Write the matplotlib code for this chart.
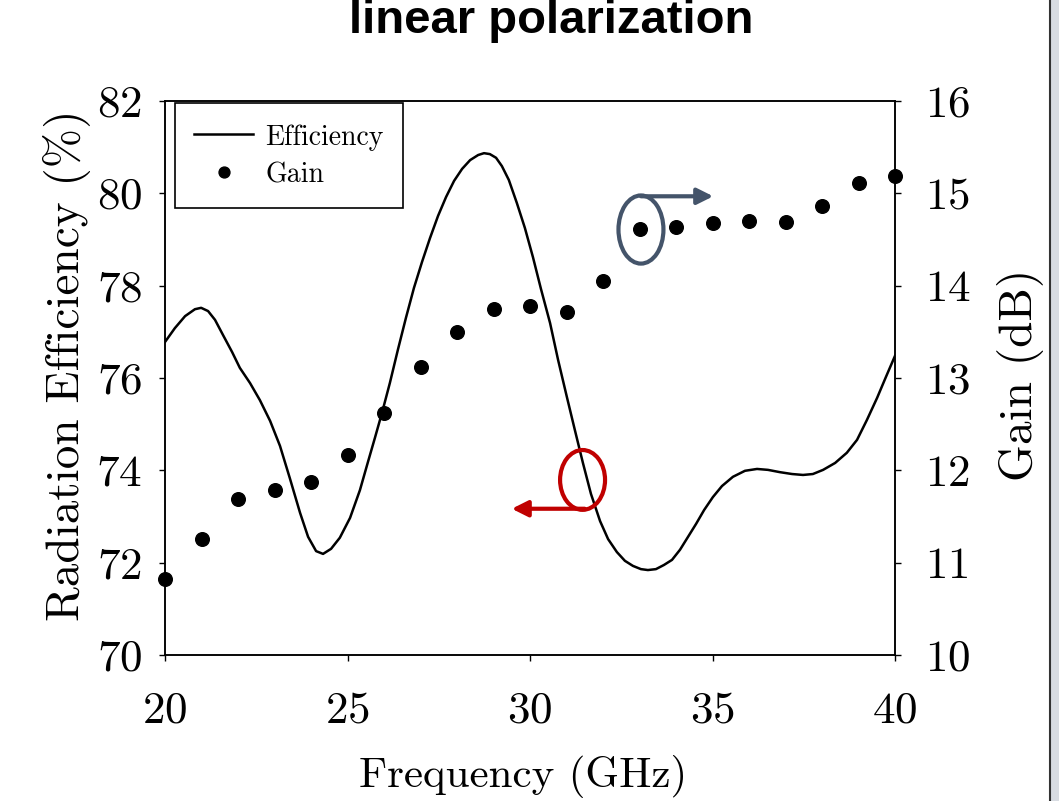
import matplotlib
matplotlib.use('Agg')
import matplotlib.pyplot as plt
from matplotlib.patches import Ellipse, Rectangle
from matplotlib.lines import Line2D

# ---- data ----
freq_eff = [20.00, 20.27, 20.55, 20.82, 20.99, 21.18, 21.37, 21.59, 21.84, 22.05,
            22.33, 22.60, 22.88, 23.15, 23.42, 23.70, 23.92, 24.14, 24.33, 24.55,
            24.79, 25.07, 25.34, 25.56, 25.75, 25.95, 26.16, 26.38, 26.60, 26.82,
            27.04, 27.26, 27.48, 27.70, 27.92, 28.14, 28.36, 28.58, 28.74, 28.90,
            29.07, 29.23, 29.42, 29.64, 29.86, 30.08, 30.30, 30.55, 30.77, 31.01,
            31.23, 31.45, 31.67, 31.92, 32.14, 32.38, 32.60, 32.82, 33.04, 33.23,
            33.45, 33.67, 33.89, 34.11, 34.33, 34.55, 34.77, 35.01, 35.26, 35.56,
            35.89, 36.22, 36.52, 36.85, 37.18, 37.48, 37.75, 38.03, 38.36, 38.68,
            38.96, 39.23, 39.51, 39.75, 40.00]
efficiency = [76.78, 77.08, 77.34, 77.49, 77.52, 77.45, 77.26, 76.93, 76.56, 76.22,
              75.89, 75.52, 75.07, 74.53, 73.83, 73.08, 72.56, 72.25, 72.19, 72.30,
              72.54, 72.97, 73.57, 74.18, 74.70, 75.26, 75.89, 76.61, 77.30, 77.95,
              78.51, 79.03, 79.51, 79.92, 80.27, 80.53, 80.72, 80.83, 80.87, 80.85,
              80.77, 80.59, 80.29, 79.79, 79.25, 78.62, 77.93, 77.19, 76.39, 75.59,
              74.87, 74.16, 73.49, 72.90, 72.51, 72.23, 72.04, 71.93, 71.86, 71.84,
              71.86, 71.95, 72.06, 72.28, 72.56, 72.84, 73.14, 73.42, 73.66, 73.86,
              73.99, 74.03, 74.01, 73.96, 73.92, 73.90, 73.92, 74.01, 74.16, 74.38,
              74.66, 75.09, 75.57, 76.02, 76.48]

freq_gain = [20, 21, 22, 23, 24, 25, 26, 27, 28, 29, 30,
             31, 32, 33, 34, 35, 36, 37, 38, 39, 40]
gain = [10.82, 11.26, 11.69, 11.79, 11.87, 12.17, 12.62, 13.12, 13.50, 13.75, 13.78,
        13.71, 14.05, 14.61, 14.64, 14.68, 14.70, 14.69, 14.86, 15.11, 15.19]

x_ticks = [20, 25, 30, 35, 40]
eff_ticks = [70, 72, 74, 76, 78, 80, 82]
gain_ticks = [10, 11, 12, 13, 14, 15, 16]

plt.rcParams['font.family'] = ['cmr10', 'DejaVu Serif']
plt.rcParams['axes.formatter.use_mathtext'] = True
plt.rcParams['mathtext.fontset'] = 'cm'

W, H = 1059, 801
fig = plt.figure(figsize=(W / 100, H / 100), dpi=100)
fig.patch.set_facecolor('white')
ax = fig.add_axes([165 / W, (H - 655) / H, 730 / W, 554 / H])
ax2 = ax.twinx()

l1, = ax.plot(freq_eff, efficiency, color='black', lw=1.8, label='Efficiency')
s1, = ax2.plot(freq_gain, gain, 'o', color='black', ms=9.8, label='Gain',
               clip_on=False, zorder=5)

ax.set_xlim(20, 40)
ax.set_ylim(70, 82)
ax2.set_ylim(10, 16)
ax.set_xticks(x_ticks)
ax.set_yticks(eff_ticks)
ax2.set_yticks(gain_ticks)

for a in (ax, ax2):
    for sp in a.spines.values():
        sp.set_linewidth(1.1)
ax.tick_params(axis='x', direction='out', length=4.5, width=1.0,
               labelsize=32.5, pad=22)
ax.tick_params(axis='y', direction='out', length=4.5, width=1.0,
               labelsize=32.5, pad=12)
ax2.tick_params(axis='y', direction='out', length=4.5, width=1.0,
                labelsize=32.5, pad=17)

ax.set_xlabel('Frequency (GHz)', fontsize=31)
ax.xaxis.set_label_coords(0.490, -0.220)
ax.xaxis.label.set_va('center')
ax.set_ylabel('Radiation Efficiency (%)', fontsize=34)
ax.yaxis.set_label_coords(-0.134, 0.523)
ax.yaxis.label.set_va('center')
ax2.set_ylabel('Gain (dB)', fontsize=34)
ax2.yaxis.set_label_coords(1.172, 0.505)
ax2.yaxis.label.set_va('center')

leg = ax2.legend([l1, s1], ['Efficiency', 'Gain'], loc='upper left',
                 bbox_to_anchor=(0.0137, 0.9964), borderaxespad=0,
                 frameon=True, fancybox=False, edgecolor='black', framealpha=1,
                 fontsize=20, handlelength=2.1, markerscale=0.8,
                 labelspacing=0.35, borderpad=0.7, handletextpad=0.45,
                 handleheight=1.05)
leg.get_frame().set_linewidth(1.2)

# annotations (ellipses + arrows)
red = '#C00000'
blue = '#44546A'
ax2.add_patch(Ellipse((0.572, 0.316), 0.0616, 0.108, transform=ax2.transAxes,
                      fill=False, edgecolor=red, lw=3, zorder=6))
ax2.annotate('', xy=(0.475, 0.264), xytext=(0.575, 0.264),
             xycoords='axes fraction', textcoords='axes fraction',
             arrowprops=dict(arrowstyle='-|>', color=red, lw=3,
                             mutation_scale=24, shrinkA=0, shrinkB=0), zorder=6)
ax2.add_patch(Ellipse((0.652, 0.768), 0.0616, 0.123, transform=ax2.transAxes,
                      fill=False, edgecolor=blue, lw=3, zorder=6))
ax2.annotate('', xy=(0.751, 0.828), xytext=(0.652, 0.828),
             xycoords='axes fraction', textcoords='axes fraction',
             arrowprops=dict(arrowstyle='-|>', color=blue, lw=3,
                             mutation_scale=24, shrinkA=0, shrinkB=0), zorder=6)

# title (cut at top, as in the slide)
fig.text(551 / W, 1 - 33 / H, 'linear polarization', ha='center', va='baseline',
         fontsize=34, fontweight='bold', family=['Liberation Sans', 'DejaVu Sans'])

# slide edge at right
fig.add_artist(Rectangle((1050 / W, 0), 9 / W, 1, transform=fig.transFigure,
                         facecolor='#d8dce2', edgecolor='none'))
fig.add_artist(Line2D([1049.5 / W, 1049.5 / W], [0, 1], transform=fig.transFigure,
                      color='#333333', lw=1.5))

fig.savefig('out.png', dpi=100)
